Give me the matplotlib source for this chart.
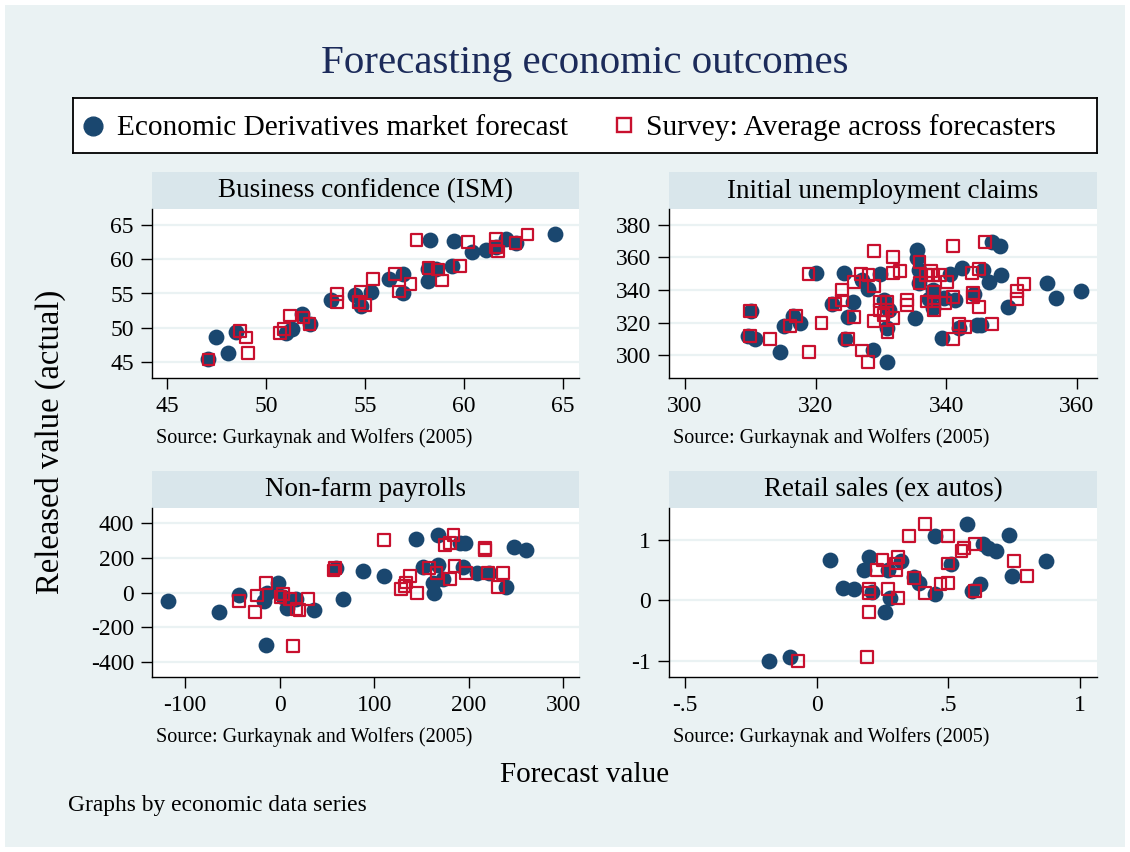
import matplotlib
matplotlib.use("Agg")
import matplotlib.pyplot as plt
from matplotlib.patches import Rectangle

plt.rcParams['font.family'] = ['Liberation Serif', 'DejaVu Serif']
plt.rcParams['axes.unicode_minus'] = False

# ---- data ----
panel_titles = ["Business confidence (ISM)", "Initial unemployment claims",
                "Non-farm payrolls", "Retail sales (ex autos)"]

ism_mkt_x = [47.1, 47.5, 48.1, 48.5, 51.0, 51.3, 51.8, 52.2, 53.3, 54.5, 54.8, 55.3, 56.2, 56.9,
             56.9, 58.2, 58.2, 58.6, 58.3, 59.5, 59.4, 60.4, 61.1, 61.6, 62.1, 62.6, 64.6]
ism_mkt_y = [45.4, 48.6, 46.3, 49.4, 49.3, 49.8, 52.0, 50.5, 54.0, 54.8, 53.2, 55.2, 57.1, 57.9,
             55.1, 56.8, 58.6, 58.5, 62.8, 62.6, 59.0, 61.0, 61.3, 61.7, 62.9, 62.4, 63.6]
ism_svy_x = [47.1, 48.7, 49.0, 49.1, 50.7, 50.9, 51.2, 51.9, 52.2, 53.6, 53.6, 54.8, 54.7, 55.0,
             55.4, 56.5, 56.7, 57.3, 57.6, 58.2, 58.7, 58.9, 59.8, 60.2, 61.6, 61.6, 61.7, 62.6, 63.2]
ism_svy_y = [45.4, 49.5, 48.6, 46.3, 49.2, 49.8, 51.8, 51.5, 50.6, 54.9, 53.8, 55.3, 53.8, 53.3,
             57.1, 57.8, 55.3, 56.4, 62.8, 58.7, 58.5, 56.9, 59.0, 62.5, 62.9, 61.8, 61.1, 62.4, 63.6]

clm_mkt_x = [310.1, 309.7, 310.7, 314.5, 315.2, 316.5, 317.6, 320.1, 322.5, 324.4, 325.0, 325.8,
             324.5, 327.1, 328.1, 329.9, 328.8, 330.9, 330.5, 330.9, 331.2, 335.2, 335.6, 335.6,
             335.8, 335.9, 337.3, 338.0, 338.0, 339.3, 339.6, 340.6, 341.4, 342.5, 344.2, 344.7,
             345.4, 345.6, 346.5, 347.0, 348.2, 348.4, 349.5, 355.4, 356.8, 360.6, 341.9]
clm_mkt_y = [327.1, 312.0, 309.8, 301.8, 318.0, 324.1, 320.0, 350.2, 331.2, 350.2, 323.3, 332.9,
             309.8, 346.1, 340.4, 349.8, 303.3, 295.7, 333.9, 316.5, 327.8, 323.1, 364.5, 359.4,
             352.2, 344.1, 334.3, 340.0, 328.8, 310.4, 334.9, 349.8, 333.9, 353.3, 337.6, 318.6,
             318.6, 352.2, 345.1, 369.6, 367.1, 349.2, 329.4, 344.1, 335.3, 339.4, 316.9]
clm_svy_x = [310.0, 310.0, 313.0, 316.1, 317.0, 318.9, 319.0, 320.9, 323.0, 324.0, 324.0, 325.0,
             325.9, 325.9, 327.0, 327.1, 328.0, 328.1, 328.9, 329.0, 329.0, 329.9, 329.9, 330.9,
             330.9, 330.4, 331.9, 331.0, 331.9, 331.9, 332.9, 334.0, 334.0, 335.9, 335.9, 336.9,
             337.7, 338.0, 339.1, 338.1, 338.1, 338.1, 337.0, 340.1, 341.0, 341.0, 339.9, 341.0,
             342.0, 342.9, 343.9, 344.1, 344.1, 345.0, 345.0, 346.0, 347.0, 350.9, 350.9, 351.9]
clm_svy_y = [327.1, 311.8, 309.8, 318.0, 324.1, 349.8, 301.8, 320.0, 331.2, 340.0, 333.5, 309.8,
             323.3, 345.1, 349.8, 302.9, 295.7, 349.2, 342.4, 364.1, 321.0, 332.9, 327.8, 332.9,
             327.8, 324.7, 322.7, 314.5, 360.0, 350.2, 351.8, 333.9, 330.8, 357.3, 344.1, 349.2,
             351.8, 349.2, 349.2, 339.0, 332.9, 327.8, 332.9, 345.1, 366.9, 335.9, 332.2, 309.8,
             319.2, 317.1, 350.2, 338.0, 335.5, 352.9, 329.4, 369.2, 319.0, 339.6, 334.3, 343.7]

nfp_mkt_x = [-118, -64, -43, -17, -13, -14, -2, 4, 8, 17, 36, 60, 67, 88, 110,
             144, 152, 162, 163, 167, 168, 173, 191, 194, 196, 209, 221, 239, 248, 261]
nfp_mkt_y = [-46, -110, -13, -46, 0, -302, 58, -27, -90, -38, -100, 140, -38, 127, 96,
             308, 146, 58, 0, 160, 333, 77, 285, 146, 288, 112, 112, 35, 262, 246]
nfp_svy_x = [-43, -26, -24, -14, 1, 4, 11, 18, 21, 30, 14, 57, 59, 110, 128, 132,
             134, 138, 145, 158, 166, 175, 180, 184, 180, 185, 197, 217, 217, 220, 231, 236]
nfp_svy_y = [-46, -110, -17, 54, -27, -8, -38, -96, -100, -38, -306, 127, 140, 304, 19, 38,
             58, 96, 0, 140, 112, 275, 285, 333, 77, 154, 112, 256, 246, 112, 31, 112]

rs_mkt_x = [-0.18, -0.10, 0.05, 0.10, 0.14, 0.18, 0.20, 0.21, 0.26, 0.27, 0.28, 0.32, 0.37,
            0.39, 0.45, 0.45, 0.51, 0.57, 0.62, 0.59, 0.63, 0.65, 0.68, 0.73, 0.74, 0.87]
rs_mkt_y = [-1.01, -0.94, 0.67, 0.21, 0.19, 0.50, 0.72, 0.14, -0.19, 0.50, 0.04, 0.65, 0.38,
            0.29, 1.06, 0.11, 0.61, 1.27, 0.27, 0.15, 0.94, 0.87, 0.82, 1.08, 0.40, 0.65]
rs_svy_x = [-0.07, 0.19, 0.20, 0.20, 0.20, 0.23, 0.25, 0.27, 0.30, 0.31, 0.30, 0.31, 0.35,
            0.37, 0.41, 0.41, 0.47, 0.50, 0.50, 0.50, 0.55, 0.56, 0.60, 0.60, 0.75, 0.80]
rs_svy_y = [-1.01, -0.94, -0.19, 0.19, 0.12, 0.50, 0.67, 0.19, 0.61, 0.04, 0.50, 0.72, 1.06,
            0.37, 1.26, 0.12, 0.27, 1.06, 0.61, 0.29, 0.82, 0.87, 0.93, 0.15, 0.65, 0.40]

ism_xticks = [45, 50, 55, 60, 65]
ism_yticks = [45, 50, 55, 60, 65]
clm_xticks = [300, 320, 340, 360]
clm_yticks = [300, 320, 340, 360, 380]
nfp_xticks = [-100, 0, 100, 200, 300]
nfp_yticks = [-400, -200, 0, 200, 400]
rs_xticks = [-0.5, 0, 0.5, 1]
rs_xlabels = ["-.5", "0", ".5", "1"]
rs_yticks = [-1, 0, 1]

# ---- styling ----
W, H = 1130, 852
BG = "#eaf2f3"
BAR = "#d9e6eb"
NAVY = "#1a476f"
RED = "#c8102e"
TITLE_C = "#1c2b5a"

fig = plt.figure(figsize=(W / 100, H / 100), dpi=100)
fig.patch.set_facecolor("white")
fig.add_artist(Rectangle((5 / W, 5 / H), (W - 10) / W, (H - 10) / H, zorder=-2,
                         transform=fig.transFigure, facecolor=BG, edgecolor="none"))


def px_axes(x0, y0, x1, y1, **kw):
    return fig.add_axes([x0 / W, 1 - y1 / H, (x1 - x0) / W, (y1 - y0) / H], **kw)


def panel(box, title, mx, my, sx, sy, xlim, ylim, xt, yt, xl=None):
    x0, y0, x1, y1 = box
    fig.add_artist(Rectangle((x0 / W, 1 - y0 / H), (x1 - x0) / W, 37 / H, zorder=-1,
                             transform=fig.transFigure, facecolor=BAR, edgecolor="none"))
    fig.text((x0 + x1) / 2 / W, 1 - (y0 - 18) / H, title, ha="center", va="center",
             fontsize=19.5)
    ax = px_axes(x0, y0, x1, y1)
    ax.set_facecolor("white")
    ax.scatter(mx, my, s=130, color=NAVY, marker="o", linewidths=0, zorder=3)
    ax.scatter(sx, sy, s=72, facecolors="none", edgecolors=RED, marker="s",
               linewidths=1.6, zorder=4)
    ax.set_xlim(*xlim)
    ax.set_ylim(*ylim)
    ax.set_xticks(xt)
    if xl is not None:
        ax.set_xticklabels(xl)
    ax.set_yticks(yt)
    ax.yaxis.grid(True, color=BG, linewidth=1.6)
    ax.set_axisbelow(True)
    for s in ["top", "right"]:
        ax.spines[s].set_visible(False)
    for s in ["left", "bottom"]:
        ax.spines[s].set_linewidth(1.0)
    ax.tick_params(length=8, width=1.0, labelsize=17, pad=5)
    fig.text((x0 + 4) / W, 1 - (y1 + 60) / H, "Source: Gurkaynak and Wolfers (2005)",
             ha="left", va="center", fontsize=14.5)
    return ax


panel((152, 209, 579, 378), panel_titles[0], ism_mkt_x, ism_mkt_y, ism_svy_x, ism_svy_y,
      (44.25, 65.8), (42.7, 67.3), ism_xticks, ism_yticks)
panel((669, 209, 1097, 378), panel_titles[1], clm_mkt_x, clm_mkt_y, clm_svy_x, clm_svy_y,
      (297.55, 363.1), (286.1, 389.6), clm_xticks, clm_yticks)
panel((152, 508, 579, 677), panel_titles[2], nfp_mkt_x, nfp_mkt_y, nfp_svy_x, nfp_svy_y,
      (-134.9, 316.6), (-486.5, 488), nfp_xticks, nfp_yticks)
panel((669, 508, 1097, 677), panel_titles[3], rs_mkt_x, rs_mkt_y, rs_svy_x, rs_svy_y,
      (-0.561, 1.0646), (-1.27, 1.53), rs_xticks, rs_yticks, rs_xlabels)

# ---- title, legend, axis titles, note ----
fig.text(585 / W, 1 - 63 / H, "Forecasting economic outcomes", ha="center", va="center",
         fontsize=29.5, color=TITLE_C)

lg = px_axes(73, 98, 1097, 153)
lg.set_xlim(73, 1097)
lg.set_ylim(153, 98)
lg.set_xticks([])
lg.set_yticks([])
for s in lg.spines.values():
    s.set_linewidth(1.3)
lg.plot([93], [126], marker="o", markersize=13.5, color=NAVY, linestyle="none")
lg.text(117, 128, "Economic Derivatives market forecast", ha="left", va="center", fontsize=21.2)
lg.plot([624], [125], marker="s", markersize=10, markerfacecolor="none",
        markeredgecolor=RED, markeredgewidth=1.7, linestyle="none")
lg.text(646, 128, "Survey: Average across forecasters", ha="left", va="center", fontsize=21.2)

fig.text(50 / W, 1 - 442 / H, "Released value (actual)", rotation=90, ha="center",
         va="center", fontsize=23.5)
fig.text(585 / W, 1 - 775 / H, "Forecast value", ha="center", va="center", fontsize=21)
fig.text(68 / W, 1 - 806 / H, "Graphs by economic data series", ha="left", va="center",
         fontsize=16.9)

fig.savefig("out.png", dpi=100, facecolor=fig.get_facecolor())
